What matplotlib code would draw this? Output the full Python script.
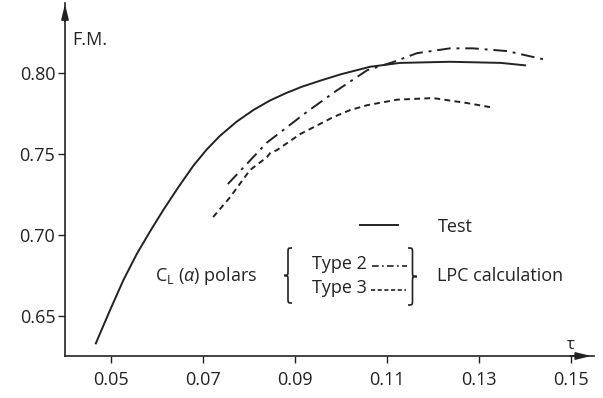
import matplotlib
matplotlib.use("Agg")
import matplotlib.pyplot as plt
from matplotlib.path import Path
from matplotlib.patches import PathPatch
from matplotlib.lines import Line2D

plt.rcParams['font.family'] = ['Open Sans', 'DejaVu Sans']
plt.rcParams['mathtext.fontset'] = 'custom'
plt.rcParams['mathtext.rm'] = 'Open Sans'
plt.rcParams['mathtext.it'] = 'Open Sans:italic'

ink = '#222222'

# test curve
test_tau = [0.0467, 0.0498, 0.0527, 0.0556, 0.0585, 0.0614, 0.0647, 0.0679, 0.0708,
            0.0737, 0.0773, 0.0810, 0.0845, 0.0880, 0.0915, 0.0960, 0.1000, 0.1063,
            0.1128, 0.1237, 0.1348, 0.1400]
test_fm = [0.6328, 0.6534, 0.6719, 0.6880, 0.7020, 0.7153, 0.7295, 0.7425, 0.7525,
           0.7610, 0.7697, 0.7770, 0.7827, 0.7873, 0.7913, 0.7955, 0.7990, 0.8036,
           0.8060, 0.8067, 0.8060, 0.8045]

# LPC calculation, type 2 polars
t2_tau = [0.0754, 0.0839, 0.0926, 0.0991, 0.1057, 0.1113, 0.1165, 0.1237, 0.1287, 0.1361, 0.1439]
t2_fm = [0.7312, 0.7568, 0.7758, 0.7890, 0.8015, 0.8065, 0.8120, 0.8150, 0.8150, 0.8133, 0.8083]

# LPC calculation, type 3 polars
t3_tau = [0.0722, 0.0759, 0.0802, 0.0839, 0.0846, 0.0861, 0.0911, 0.0983, 0.1020,
          0.1057, 0.1122, 0.1200, 0.1274, 0.1324]
t3_fm = [0.7108, 0.7231, 0.7398, 0.7478, 0.7503, 0.7522, 0.7620, 0.7725, 0.7769,
         0.7799, 0.7833, 0.7843, 0.7812, 0.7787]

xticks = [0.05, 0.07, 0.09, 0.11, 0.13, 0.15]
yticks = [0.65, 0.70, 0.75, 0.80]

W, H = 603, 398
fig = plt.figure(figsize=(W / 100, H / 100), dpi=100)
ax = fig.add_axes([65 / W, 42 / H, 529 / W, 353 / H])
ax.set_xlim(0.04, 0.155)
ax.set_ylim(0.625, 0.843)

ax.plot(test_tau, test_fm, color=ink, lw=1.4, solid_joinstyle='round')
ax.plot(t2_tau, t2_fm, color=ink, lw=1.4, dashes=(7, 3, 1.5, 3))
ax.plot(t3_tau, t3_fm, color=ink, lw=1.4, dashes=(3, 2.2))

for s in ['top', 'right']:
    ax.spines[s].set_visible(False)
for s in ['left', 'bottom']:
    ax.spines[s].set_color(ink)
    ax.spines[s].set_linewidth(1.2)

ax.set_xticks(xticks)
ax.set_xticklabels([f'{v:.2f}' for v in xticks])
ax.set_yticks(yticks)
ax.set_yticklabels([f'{v:.2f}' for v in yticks])
ax.tick_params(axis='x', length=5, width=1, color=ink, pad=6, labelsize=13, labelcolor=ink)
ax.tick_params(axis='y', length=5, width=1, color=ink, pad=2, labelsize=13, labelcolor=ink)

# arrow heads on the axes
ax.annotate('', xy=(0, 1.005), xytext=(0, 0.94), xycoords='axes fraction',
            arrowprops=dict(arrowstyle='-|>,head_length=0.9,head_width=0.22',
                            color=ink, lw=1.2), annotation_clip=False)
ax.annotate('', xy=(1.0, 0), xytext=(0.95, 0), xycoords='axes fraction',
            arrowprops=dict(arrowstyle='-|>,head_length=0.9,head_width=0.22',
                            color=ink, lw=1.2), annotation_clip=False)


def fx(x):
    return x / W


def fy(y):
    return 1 - y / H


fig.text(fx(72), fy(40), 'F.M.', fontsize=13, color=ink, va='center', ha='left')
fig.text(fx(571), fy(345), 'τ', fontsize=12, color=ink, va='center', ha='center')

# legend
fig.add_artist(Line2D([fx(360), fx(398)], [fy(225), fy(225)], color=ink, lw=1.4))
fig.text(fx(438), fy(227), 'Test', fontsize=13, color=ink, va='center', ha='left')
fig.text(fx(312), fy(264), 'Type 2', fontsize=13, color=ink, va='center', ha='left')
fig.text(fx(312), fy(288), 'Type 3', fontsize=13, color=ink, va='center', ha='left')
fig.add_artist(Line2D([fx(372), fx(407)], [fy(266), fy(266)], color=ink, lw=1.2,
                      dashes=(4, 2, 1, 2)))
fig.add_artist(Line2D([fx(371), fx(406)], [fy(290), fy(290)], color=ink, lw=1.2,
                      dashes=(2.5, 1.5)))
fig.text(fx(155), fy(276), r'C$_\mathrm{L}$ ($\mathit{\alpha}$) polars', fontsize=13,
         color=ink, va='center', ha='left')
fig.text(fx(437), fy(276), 'LPC calculation', fontsize=13, color=ink,
         va='center', ha='left')


def brace(x0, y0, y1, w, right=True):
    # curly brace in figure pixels; tip points right if right=True
    s = 1 if right else -1
    xm = x0 + s * w / 2
    xt = x0 + s * w
    yc = (y0 + y1) / 2
    r = 5
    verts = [(x0, y0), (xm, y0), (xm, y0), (xm, y0 + r),
             (xm, yc - r),
             (xm, yc), (xm, yc), (xt, yc),
             (xm, yc), (xm, yc), (xm, yc + r),
             (xm, y1 - r),
             (xm, y1), (xm, y1), (x0, y1)]
    codes = [Path.MOVETO, Path.CURVE4, Path.CURVE4, Path.CURVE4,
             Path.LINETO,
             Path.CURVE4, Path.CURVE4, Path.CURVE4,
             Path.CURVE4, Path.CURVE4, Path.CURVE4,
             Path.LINETO,
             Path.CURVE4, Path.CURVE4, Path.CURVE4]
    verts = [(fx(a), fy(b)) for a, b in verts]
    p = PathPatch(Path(verts, codes), transform=fig.transFigure, fill=False,
                  edgecolor=ink, lw=1.2)
    fig.add_artist(p)


brace(408, 248, 305, 9, right=True)
brace(292, 248, 303, 8, right=False)

fig.savefig('out.png', dpi=100)
